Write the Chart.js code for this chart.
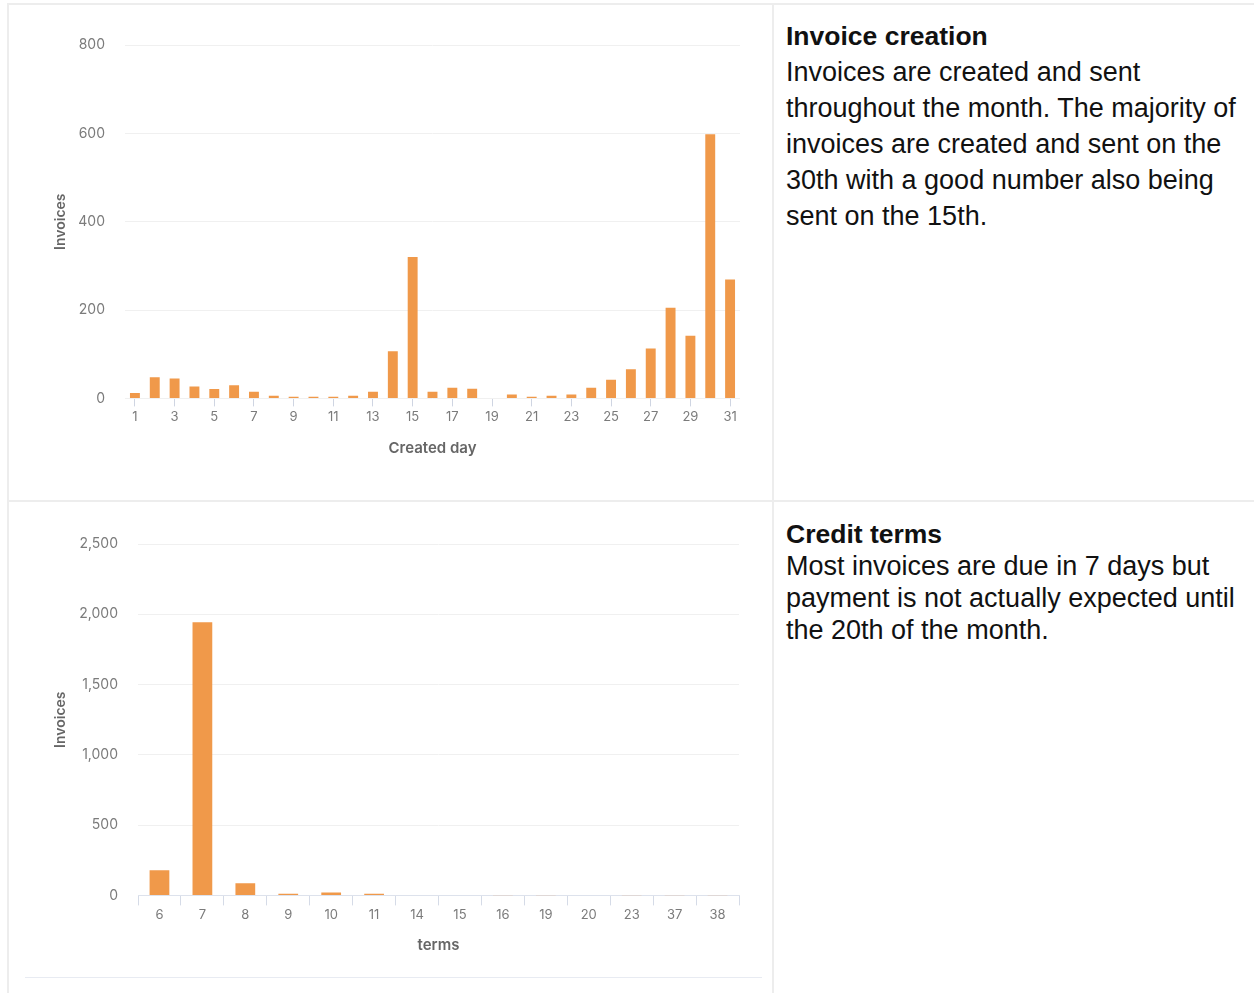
<!DOCTYPE html>
<html lang="en">
<head>
<meta charset="UTF-8">
<title>Invoices</title>
<script src="https://cdn.jsdelivr.net/npm/chart.js"></script>
<style>
    body { margin: 0; background: #fff; width: 1254px; height: 993px; position: relative; overflow: hidden; }
    .line { position: absolute; background: #ededed; }
    .box { position: absolute; }
    .text { position: absolute; left: 786px; font-family: "Liberation Sans", Arial, sans-serif; font-size: 27px; color: #111; }
    .text b { font-weight: 700; font-size: 26.5px; }
</style>
</head>
<body>
    <div class="line" style="left:7px; top:3px; width:1247px; height:2px;"></div>
    <div class="line" style="left:7px; top:3px; width:2px; height:990px;"></div>
    <div class="line" style="left:7px; top:500px; width:1247px; height:2px;"></div>
    <div class="line" style="left:772px; top:3px; width:2px; height:990px;"></div>
    <div class="line" style="left:25px; top:977px; width:737px; height:1px; background:#e8ebf2;"></div>

    <div class="box" style="left:8px; top:5px; width:765px; height:495px;"><canvas id="dayChart"></canvas></div>
    <div class="box" style="left:8px; top:502px; width:765px; height:475px;"><canvas id="termsChart"></canvas></div>

    <div class="text" style="top:18px; line-height:36px;">
        <b>Invoice creation</b><br>
        Invoices are created and sent<br>
        throughout the month. The majority of<br>
        invoices are created and sent on the<br>
        30th with a good number also being<br>
        sent on the 15th.
    </div>
    <div class="text" style="top:518px; line-height:32px;">
        <b>Credit terms</b><br>
        Most invoices are due in 7 days but<br>
        payment is not actually expected until<br>
        the 20th of the month.
    </div>

<script>
const createdDays = ['1','2','3','4','5','6','7','8','9','10','11','12','13','14','15','16',
    '17','18','19','20','21','22','23','24','25','26','27','28','29','30','31'];
const createdCounts = [12, 48, 45, 27, 21, 30, 15, 6, 4, 4, 4, 6, 15, 107, 320, 15,
    24, 22, 0, 9, 4, 6, 9, 24, 42, 66, 113, 205, 142, 598, 269];

const terms = ['6','7','8','9','10','11','14','15','16','19','20','23','37','38'];
const termCounts = [179, 1943, 86, 12, 21, 12, 3, 2, 1, 1, 2, 1, 1, 1];

const barColor = '#f0994a';
const tickColor = '#7b7b7b';
const fontName = 'Inter, "Noto Sans", sans-serif';

Chart.defaults.font.family = fontName;
Chart.defaults.animation = false;

function makeChart(id, labels, values, opts) {
    return new Chart(document.getElementById(id), {
        type: 'bar',
        data: {
            labels: labels,
            datasets: [{
                label: 'Invoices',
                data: values,
                backgroundColor: barColor,
                barPercentage: opts.barPct,
                categoryPercentage: 1
            }]
        },
        options: {
            responsive: true,
            maintainAspectRatio: false,
            layout: { padding: opts.padding },
            plugins: { legend: { display: false }, tooltip: { enabled: false } },
            scales: {
                x: {
                    grid: {
                        offset: opts.offsetGrid,
                        drawOnChartArea: false,
                        tickLength: opts.tickLength,
                        color: opts.gridColor
                    },
                    border: { display: opts.xBorder, color: '#dde2ec' },
                    ticks: {
                        color: tickColor,
                        font: { size: 13 },
                        padding: opts.tickPad,
                        autoSkip: false,
                        maxRotation: 0,
                        callback: opts.tickCallback
                    },
                    title: {
                        display: true,
                        text: opts.xTitle,
                        color: '#666',
                        font: { size: 15, weight: '600' },
                        padding: { top: opts.titlePad, bottom: 0 }
                    }
                },
                y: {
                    min: 0,
                    max: opts.yMax,
                    ticks: { stepSize: opts.yStep, color: tickColor, font: { size: 14 }, padding: 20 },
                    grid: { color: '#f0f0f0', drawTicks: false },
                    border: { display: false },
                    title: {
                        display: true,
                        text: 'Invoices',
                        color: '#666',
                        font: { size: 14, weight: '600' }
                    },
                    afterFit: function (scale) { scale.width = opts.yWidth; }
                }
            }
        }
    });
}

makeChart('dayChart', createdDays, createdCounts, {
    barPct: 0.5,
    padding: { left: 40, right: 33, top: 40, bottom: 43 },
    offsetGrid: false,
    tickLength: 8,
    tickPad: 3,
    titlePad: 11,
    xBorder: false,
    gridColor: ctx => (ctx.index % 2 === 0 ? '#cfd5e2' : 'rgba(0,0,0,0)'),
    tickCallback: function (value, index) { return index % 2 === 0 ? this.getLabelForValue(value) : ''; },
    xTitle: 'Created day',
    yMax: 800,
    yStep: 200,
    yWidth: 77
});

makeChart('termsChart', terms, termCounts, {
    barPct: 0.46,
    padding: { left: 40, right: 34, top: 42, bottom: 23 },
    offsetGrid: true,
    tickLength: 10,
    tickPad: 2,
    titlePad: 11,
    xBorder: true,
    gridColor: '#d5dbe7',
    tickCallback: function (value) { return this.getLabelForValue(value); },
    xTitle: 'terms',
    yMax: 2500,
    yStep: 500,
    yWidth: 90
});
</script>
</body>
</html>
